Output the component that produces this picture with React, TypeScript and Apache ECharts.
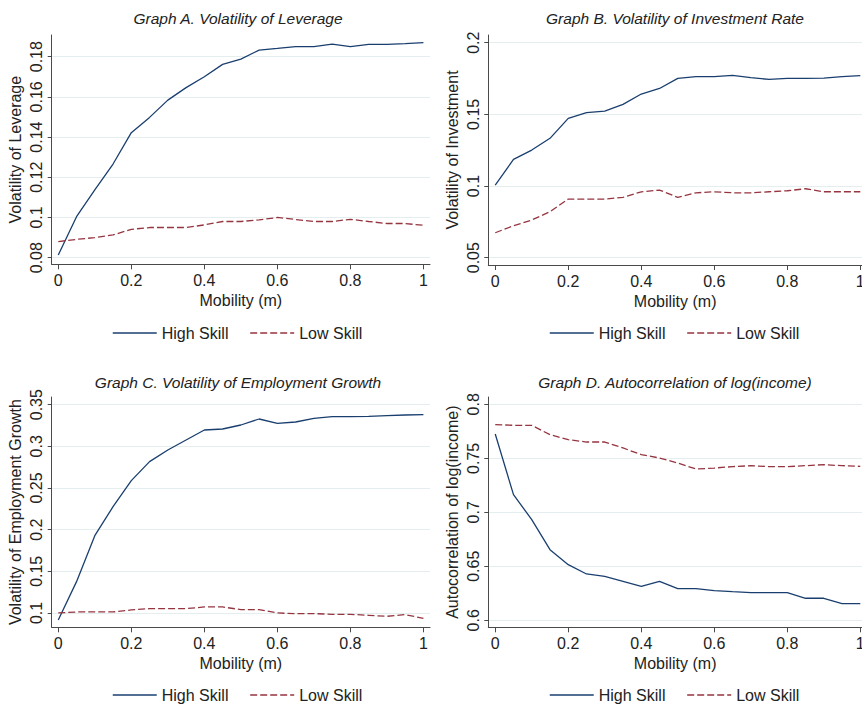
import React, { useEffect, useRef } from "react";
import * as echarts from "echarts";

// ---- data ----
const mobility = [0, 0.05, 0.1, 0.15, 0.2, 0.25, 0.3, 0.35, 0.4, 0.45, 0.5, 0.55, 0.6, 0.65, 0.7, 0.75, 0.8, 0.85, 0.9, 0.95, 1];

const leverageHigh = [0.0813, 0.1004, 0.1137, 0.1266, 0.1422, 0.1498, 0.1584, 0.1646, 0.17, 0.1762, 0.1788, 0.1833, 0.1841, 0.185, 0.185, 0.1863, 0.185, 0.1861, 0.1861, 0.1865, 0.187];
const leverageLow = [0.088, 0.0891, 0.09, 0.0913, 0.0941, 0.095, 0.095, 0.095, 0.0963, 0.098, 0.098, 0.0988, 0.1, 0.099, 0.098, 0.098, 0.0991, 0.098, 0.097, 0.097, 0.0961];

const investHigh = [0.1007, 0.1186, 0.1251, 0.1333, 0.1472, 0.1512, 0.1523, 0.157, 0.1642, 0.1681, 0.1751, 0.1763, 0.1763, 0.1772, 0.1756, 0.1744, 0.1751, 0.1751, 0.1753, 0.1763, 0.177];
const investLow = [0.0674, 0.0723, 0.0763, 0.0821, 0.0909, 0.0909, 0.0909, 0.0921, 0.096, 0.0972, 0.0921, 0.0953, 0.096, 0.0953, 0.0953, 0.096, 0.0967, 0.0981, 0.096, 0.096, 0.096];

const employHigh = [0.0916, 0.1376, 0.1928, 0.2276, 0.2588, 0.2816, 0.2956, 0.3076, 0.3196, 0.3208, 0.3256, 0.3328, 0.3276, 0.3292, 0.3336, 0.3356, 0.3356, 0.336, 0.3368, 0.3376, 0.338];
const employLow = [0.1, 0.1012, 0.1012, 0.1012, 0.1036, 0.1052, 0.1052, 0.1052, 0.1072, 0.1072, 0.104, 0.104, 0.1, 0.0992, 0.0992, 0.0984, 0.0984, 0.0972, 0.096, 0.098, 0.0936];

const incomeHigh = [0.7725, 0.7164, 0.6932, 0.6654, 0.6515, 0.6429, 0.6407, 0.6361, 0.6315, 0.6361, 0.6293, 0.6293, 0.6275, 0.6265, 0.6256, 0.6256, 0.6256, 0.6204, 0.6204, 0.6154, 0.6154];
const incomeLow = [0.7812, 0.7806, 0.7806, 0.7719, 0.7673, 0.7651, 0.7651, 0.7596, 0.7534, 0.7503, 0.7457, 0.7401, 0.741, 0.7423, 0.7432, 0.7423, 0.7423, 0.7432, 0.7441, 0.7432, 0.7426];

const xTicks = [0, 0.2, 0.4, 0.6, 0.8, 1];
const leverageTicks = [0.08, 0.1, 0.12, 0.14, 0.16, 0.18];
const investTicks = [0.05, 0.1, 0.15, 0.2];
const employTicks = [0.1, 0.15, 0.2, 0.25, 0.3, 0.35];
const incomeTicks = [0.6, 0.65, 0.7, 0.75, 0.8];

const titles = [
  "Graph A. Volatility of Leverage",
  "Graph B. Volatility of Investment Rate",
  "Graph C. Volatility of Employment Growth",
  "Graph D. Autocorrelation of log(income)",
];
const yNames = [
  "Volatility of Leverage",
  "Volatility of Investment",
  "Volatility of Employment Growth",
  "Autocorrelation of log(income)",
];
const xName = "Mobility (m)";
const seriesNames = ["High Skill", "Low Skill"];

// ---- styling / layout ----
const FONT = "'Liberation Sans', Arial, Helvetica, sans-serif";
const HIGH_COLOR = "#1a3f6f";
const LOW_COLOR = "#953540";
const TEXT = "#222";
const AXIS = "#4a4a4a";
const GRIDLINE = "#e4eeef";

const panels = [
  { grid: { left: 51.7, top: 35, width: 378.3, height: 229.3 }, x: [-0.018, 1.018], y: [0.0767, 0.1908], ticks: leverageTicks, hi: leverageHigh, lo: leverageLow, title: [238, 18.5], legend: [112, 325] },
  { grid: { left: 488.3, top: 35, width: 373.7, height: 230 }, x: [-0.019, 1.0047], y: [0.0449, 0.2054], ticks: investTicks, hi: investHigh, lo: investLow, title: [675, 18.5], legend: [549, 325] },
  { grid: { left: 51.7, top: 397, width: 378.3, height: 230.3 }, x: [-0.018, 1.018], y: [0.0828, 0.3592], ticks: employTicks, hi: employHigh, lo: employLow, title: [238, 382], legend: [112, 687] },
  { grid: { left: 488.3, top: 397, width: 373.7, height: 230.3 }, x: [-0.019, 1.0047], y: [0.5935, 0.8068], ticks: incomeTicks, hi: incomeHigh, lo: incomeLow, title: [675, 382], legend: [549, 687] },
];

function pairs(ys: number[]) {
  return mobility.map((m, i) => [m, ys[i]]);
}

export default function App() {
  const ref = useRef<HTMLDivElement>(null);
  useEffect(() => {
    if (!ref.current) return;
    const chart = echarts.init(ref.current, undefined, { renderer: "svg" });
    const axisLabel = { color: TEXT, fontSize: 16, fontFamily: FONT };
    const option: any = {
      animation: false,
      backgroundColor: "#fff",
      textStyle: { fontFamily: FONT },
      grid: panels.map((p) => ({ ...p.grid, containLabel: false, outerBoundsMode: "none" })),
      xAxis: panels.map((p, i) => ({
        type: "value",
        gridIndex: i,
        min: p.x[0],
        max: p.x[1],
        name: xName,
        nameLocation: "middle",
        nameGap: 28,
        nameTextStyle: { color: TEXT, fontSize: 16, fontFamily: FONT },
        axisLine: { show: true, onZero: false, lineStyle: { color: AXIS, width: 1 } },
        axisTick: { show: true, length: 5, customValues: xTicks, lineStyle: { color: AXIS } },
        axisLabel: { ...axisLabel, margin: 8, customValues: xTicks, formatter: (v: number) => String(v) },
        splitLine: { show: false },
      })),
      yAxis: panels.map((p, i) => ({
        type: "value",
        gridIndex: i,
        min: p.y[0],
        max: p.y[1],
        name: yNames[i],
        nameLocation: "middle",
        nameGap: 28,
        nameTextStyle: { color: TEXT, fontSize: 16, fontFamily: FONT },
        axisLine: { show: true, onZero: false, lineStyle: { color: AXIS, width: 1 } },
        axisTick: { show: true, length: 4, customValues: p.ticks, lineStyle: { color: AXIS } },
        axisLabel: { ...axisLabel, margin: 7, rotate: 90, customValues: p.ticks, formatter: (v: number) => String(v) },
        splitLine: { show: true, lineStyle: { color: GRIDLINE, width: 1 } },
      })),
      legend: panels.map((p) => ({
        left: p.legend[0],
        top: p.legend[1],
        padding: 0,
        itemWidth: 44,
        itemHeight: 14,
        itemGap: 21,
        selectedMode: false,
        data: seriesNames,
        itemStyle: { opacity: 0, color: "rgba(0,0,0,0)", borderColor: "rgba(0,0,0,0)", borderWidth: 0 },
        lineStyle: { width: 1.5 },
        textStyle: { color: TEXT, fontSize: 16, fontFamily: FONT },
      })),
      series: panels.flatMap((p, i) => [
        {
          type: "line",
          name: seriesNames[0],
          xAxisIndex: i,
          yAxisIndex: i,
          data: pairs(p.hi),
          symbol: "none",
          lineStyle: { color: HIGH_COLOR, width: 1.3 },
          itemStyle: { color: HIGH_COLOR },
        },
        {
          type: "line",
          name: seriesNames[1],
          xAxisIndex: i,
          yAxisIndex: i,
          data: pairs(p.lo),
          symbol: "none",
          lineStyle: { color: LOW_COLOR, width: 1.3, type: [7, 3] },
          itemStyle: { color: LOW_COLOR },
        },
      ]),
      graphic: panels.map((p, i) => ({
        type: "text",
        x: p.title[0],
        y: p.title[1],
        style: {
          text: titles[i],
          fill: TEXT,
          fontSize: 15.5,
          fontStyle: "italic",
          fontFamily: FONT,
          align: "center",
          verticalAlign: "middle",
        },
      })),
    };
    chart.setOption(option);
    return () => chart.dispose();
  }, []);
  return (
    <div
      ref={ref}
      style={{ position: "absolute", left: 0, top: 0, width: 862, height: 705, background: "#fff" }}
    />
  );
}
